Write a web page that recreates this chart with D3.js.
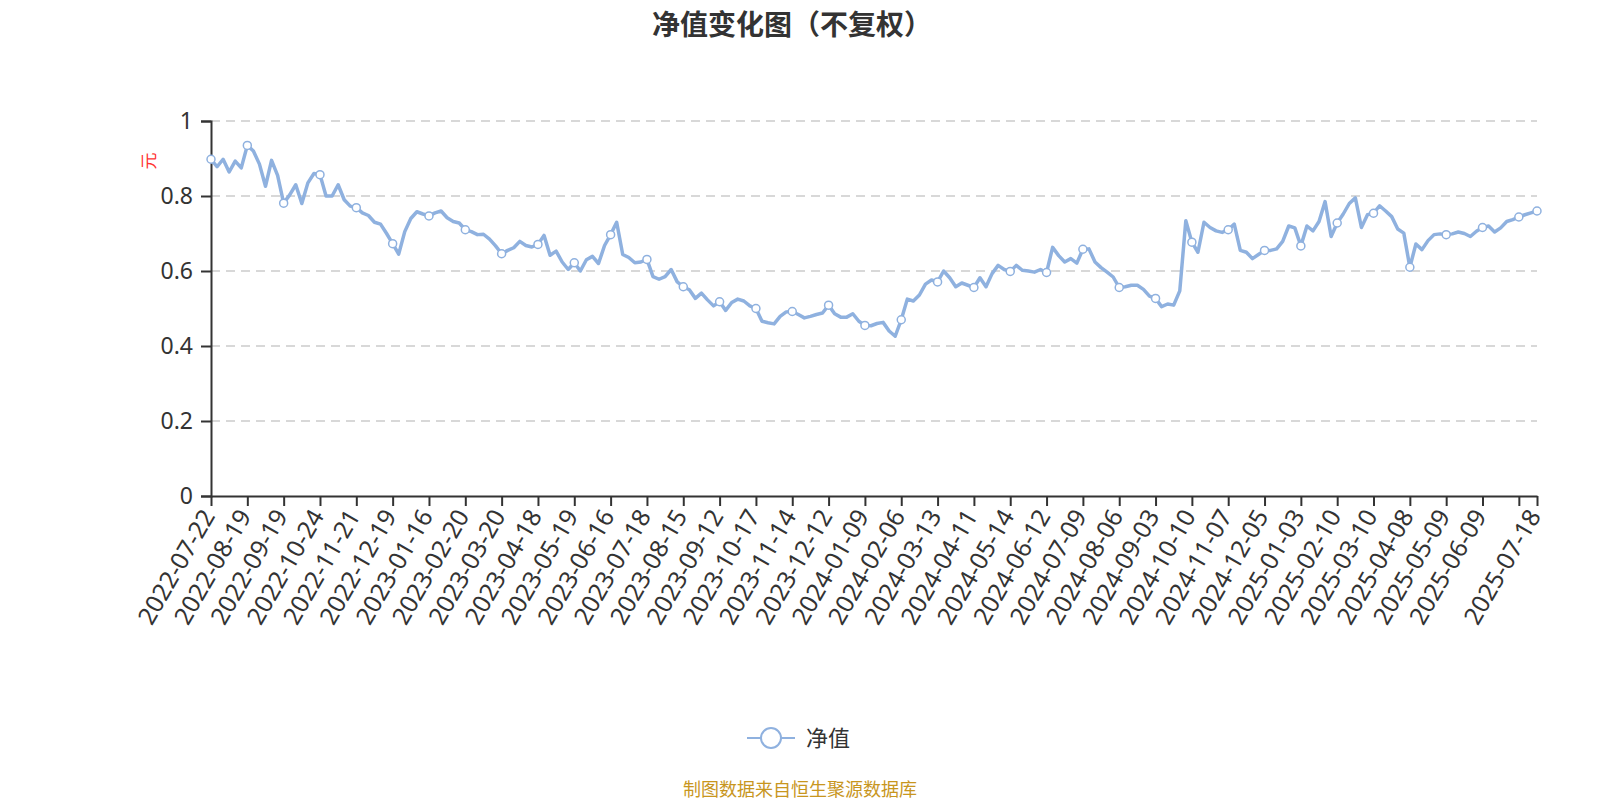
<!DOCTYPE html>
<html>
<head>
<meta charset="utf-8">
<script src="https://cdn.jsdelivr.net/npm/d3@7/dist/d3.min.js"></script>
<style>
  html, body { margin: 0; padding: 0; background: #fff; }
  svg text { font-family: "Noto Sans", "Noto Sans CJK SC", sans-serif; }
</style>
</head>
<body>
<div id="chart"></div>
<script>
// 坐标轴标签（每6个点一个刻度，最后一个点单独标注）
const tickLabels = [
  '2022-07-22', '2022-08-19', '2022-09-19', '2022-10-24', '2022-11-21', '2022-12-19',
  '2023-01-16', '2023-02-20', '2023-03-20', '2023-04-18', '2023-05-19', '2023-06-16',
  '2023-07-18', '2023-08-15', '2023-09-12', '2023-10-17', '2023-11-14', '2023-12-12',
  '2024-01-09', '2024-02-06', '2024-03-13', '2024-04-11', '2024-05-14', '2024-06-12',
  '2024-07-09', '2024-08-06', '2024-09-03', '2024-10-10', '2024-11-07', '2024-12-05',
  '2025-01-03', '2025-02-10', '2025-03-10', '2025-04-08', '2025-05-09', '2025-06-09'
];
const lastLabel = '2025-07-18';

// 净值
const navValues = [
  0.898, 0.878, 0.898, 0.864, 0.893, 0.875, 0.935, 0.92, 0.885, 0.826,
  0.895, 0.855, 0.781, 0.803, 0.83, 0.78, 0.835, 0.86, 0.857, 0.80,
  0.80, 0.83, 0.79, 0.773, 0.769, 0.755, 0.748, 0.73, 0.725, 0.70,
  0.673, 0.645, 0.705, 0.74, 0.758, 0.752, 0.747, 0.755, 0.76, 0.742,
  0.732, 0.728, 0.71, 0.705, 0.697, 0.698, 0.685, 0.667, 0.646, 0.655,
  0.662, 0.679, 0.668, 0.664, 0.671, 0.695, 0.642, 0.653, 0.624, 0.604,
  0.622, 0.60, 0.63, 0.639, 0.62, 0.668, 0.697, 0.73, 0.644, 0.636,
  0.622, 0.624, 0.631, 0.585, 0.578, 0.585, 0.604, 0.571, 0.558, 0.55,
  0.527, 0.541, 0.523, 0.507, 0.518, 0.495, 0.516, 0.525, 0.52, 0.507,
  0.50, 0.466, 0.462, 0.459, 0.479, 0.491, 0.492, 0.484, 0.475, 0.479,
  0.484, 0.488, 0.509, 0.486, 0.477, 0.477, 0.486, 0.466, 0.455, 0.454,
  0.46, 0.463, 0.44, 0.426, 0.47, 0.525, 0.52, 0.536, 0.565, 0.576,
  0.571, 0.60, 0.582, 0.558, 0.568, 0.562, 0.556, 0.582, 0.558, 0.593,
  0.615, 0.604, 0.599, 0.615, 0.602, 0.60, 0.597, 0.604, 0.596, 0.663,
  0.641, 0.624, 0.633, 0.621, 0.658, 0.659, 0.624, 0.609, 0.597, 0.584,
  0.556, 0.558, 0.562, 0.562, 0.551, 0.533, 0.527, 0.505, 0.512, 0.509,
  0.547, 0.734, 0.677, 0.65, 0.73, 0.716, 0.707, 0.703, 0.71, 0.725,
  0.655, 0.65, 0.633, 0.644, 0.655, 0.655, 0.659, 0.679, 0.72, 0.715,
  0.667, 0.72, 0.707, 0.732, 0.785, 0.692, 0.728, 0.752, 0.78, 0.795,
  0.716, 0.75, 0.754, 0.774, 0.76, 0.745, 0.712, 0.701, 0.61, 0.672,
  0.657, 0.681, 0.697, 0.699, 0.697, 0.699, 0.704, 0.70, 0.692, 0.706,
  0.716, 0.72, 0.704, 0.715, 0.732, 0.737, 0.744, 0.75, 0.755, 0.76
];

const yTicks = [0, 0.2, 0.4, 0.6, 0.8, 1];

const W = 1600, H = 800;
const plotLeft = 211, plotRight = 1537, plotTop = 121, plotBottom = 496;
const lineColor = '#8fb1df';
const step = 6;
const n = navValues.length;

const svg = d3.select('#chart').append('svg')
  .attr('width', W).attr('height', H);

const x = d3.scaleLinear().domain([0, n - 1]).range([plotLeft, plotRight]);
const y = d3.scaleLinear().domain([0, 1]).range([plotBottom, plotTop]);

//标题
svg.append('text')
  .attr('x', 792).attr('y', 35)
  .attr('text-anchor', 'middle')
  .style('font-family', '"Noto Sans CJK SC", sans-serif')
  .style('font-size', '28px').style('font-weight', 'bold')
  .attr('fill', '#333')
  .text('净值变化图（不复权）');

//网格线
svg.append('g').selectAll('line')
  .data(yTicks.filter(d => d > 0))
  .join('line')
  .attr('x1', plotLeft).attr('x2', plotRight)
  .attr('y1', d => y(d)).attr('y2', d => y(d))
  .attr('stroke', '#ccc').attr('stroke-width', 1.5)
  .attr('stroke-dasharray', '9,6');

//y轴
const yAxis = svg.append('g')
  .attr('transform', `translate(${plotLeft},0)`)
  .call(d3.axisLeft(y).tickValues(yTicks).tickSize(10).tickPadding(8)
    .tickFormat(d => d3.format('~g')(d)));
yAxis.select('.domain').attr('stroke', '#333').attr('stroke-width', 2);
yAxis.selectAll('.tick line').attr('stroke', '#333').attr('stroke-width', 2);
yAxis.selectAll('.tick text')
  .attr('fill', '#333').style('font-size', '23px');

//y轴名称
svg.append('text')
  .attr('transform', 'translate(155,161) rotate(-90)')
  .attr('text-anchor', 'middle')
  .style('font-family', '"Noto Sans CJK SC", sans-serif')
  .style('font-size', '17px')
  .attr('fill', '#ff3333')
  .text('元');

//x轴
const tickIdx = d3.range(0, n, step).concat([n - 1]);
const labelAt = new Map(tickLabels.map((d, i) => [i * step, d]));
labelAt.set(n - 1, lastLabel);

const xAxis = svg.append('g')
  .attr('transform', `translate(0,${plotBottom})`)
  .call(d3.axisBottom(x).tickValues(tickIdx).tickSize(10).tickSizeOuter(0)
    .tickFormat(d => labelAt.get(d) || ''));
xAxis.select('.domain').attr('stroke', '#333').attr('stroke-width', 2);
xAxis.selectAll('.tick line').attr('stroke', '#333').attr('stroke-width', 2);
xAxis.selectAll('.tick text')
  .attr('fill', '#333').style('font-size', '24.5px')
  .attr('text-anchor', 'end')
  .attr('dy', null)
  .attr('transform', 'translate(-4,15) rotate(-60)')
  .attr('x', 0).attr('y', 0)
  .attr('dominant-baseline', 'central');

//净值曲线
const line = d3.line()
  .x((d, i) => x(i))
  .y(d => y(d));

svg.append('path')
  .datum(navValues)
  .attr('d', line)
  .attr('fill', 'none')
  .attr('stroke', lineColor)
  .attr('stroke-width', 3.5)
  .attr('stroke-linejoin', 'round');

//标记点
svg.append('g').selectAll('circle')
  .data(tickIdx)
  .join('circle')
  .attr('cx', d => x(d))
  .attr('cy', d => y(navValues[d]))
  .attr('r', 4)
  .attr('fill', '#fff')
  .attr('stroke', lineColor)
  .attr('stroke-width', 1.5);

//图例
const legend = svg.append('g');
legend.append('line')
  .attr('x1', 747).attr('x2', 795).attr('y1', 738).attr('y2', 738)
  .attr('stroke', lineColor).attr('stroke-width', 2);
legend.append('circle')
  .attr('cx', 771).attr('cy', 738).attr('r', 10)
  .attr('fill', '#fff').attr('stroke', lineColor).attr('stroke-width', 2);
legend.append('text')
  .attr('x', 806).attr('y', 746)
  .style('font-family', '"Noto Sans CJK SC", sans-serif')
  .style('font-size', '22px')
  .attr('fill', '#333')
  .text('净值');

//数据来源
svg.append('text')
  .attr('x', 800).attr('y', 796)
  .attr('text-anchor', 'middle')
  .style('font-family', '"Noto Sans CJK SC", sans-serif')
  .style('font-size', '18px')
  .attr('fill', '#c8961e')
  .text('制图数据来自恒生聚源数据库');
</script>
</body>
</html>
